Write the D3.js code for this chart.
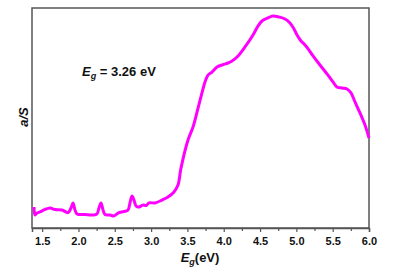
<!DOCTYPE html>
<html>
<head>
<meta charset="utf-8">
<script src="https://cdn.jsdelivr.net/npm/d3@7"></script>
<style>
  body { margin: 0; background: #fff; }
  text { font-family: "Liberation Sans", Arial, sans-serif; font-weight: bold; fill: #111; }
</style>
</head>
<body>
<svg width="394" height="275"></svg>
<script>
// photon energy (eV) and a/S (arbitrary units)
var energy = [1.388, 1.401, 1.429, 1.47, 1.525, 1.608, 1.677, 1.773, 1.856, 1.897, 1.925, 1.952, 1.98,
  2.09, 2.2, 2.255, 2.282, 2.31, 2.338, 2.365, 2.434, 2.489, 2.544, 2.627, 2.682, 2.709, 2.737,
  2.764, 2.792, 2.833, 2.888, 2.93, 2.971, 3.053, 3.15, 3.232, 3.315, 3.37, 3.41, 3.508, 3.577,
  3.646, 3.70, 3.742, 3.783, 3.838, 3.907, 3.976, 4.059, 4.114, 4.183, 4.293, 4.403, 4.472,
  4.527, 4.609, 4.678, 4.761, 4.843, 4.912, 4.967, 5.009, 5.064, 5.119, 5.174, 5.229, 5.325,
  5.435, 5.504, 5.559, 5.628, 5.697, 5.752, 5.807, 5.876, 5.945, 6.0];
var absorb = [9.5, 5.9, 6.8, 7.3, 8.2, 9.1, 8.4, 8.2, 7.0, 9.1, 11.4, 8.2, 6.4,
  6.1, 5.9, 6.4, 9.1, 11.4, 8.2, 6.1, 5.9, 5.5, 6.8, 7.5, 8.2, 11.4, 14.5,
  12.7, 10, 9.5, 10.5, 10.2, 11.4, 11.4, 12.7, 14.1, 16.4, 19.5, 27, 40, 45.9,
  54.5, 61.4, 66.4, 69.5, 70.9, 73.2, 74.1, 75, 75.9, 77.7, 82.3, 87.7, 91.8,
  94.1, 95.5, 96.4, 95.9, 95, 93.2, 90.5, 87.7, 85, 83.2, 80.9, 78.2, 74.1,
  69.5, 66.4, 64.1, 63.6, 63.2, 61.4, 57.3, 52.3, 46.8, 40.9];
var xTicks = [1.5, 2.0, 2.5, 3.0, 3.5, 4.0, 4.5, 5.0, 5.5, 6.0];
var xMinor = [1.75, 2.25, 2.75, 3.25, 3.75, 4.25, 4.75, 5.25, 5.75];

var svg = d3.select("svg");
var mLeft = 32, mRight = 369, mTop = 8, mBottom = 228;

var xScale = d3.scaleLinear().domain([1.36, 6.0]).range([mLeft, mRight]);
var yScale = d3.scaleLinear().domain([0, 100]).range([mBottom, mTop]);

var pts = energy.map(function(e, i) { return [e, absorb[i]]; });

// frame
svg.append("rect")
  .attr("x", mLeft).attr("y", mTop)
  .attr("width", mRight - mLeft).attr("height", mBottom - mTop)
  .attr("fill", "none").attr("stroke", "#555").attr("stroke-width", 1.5);

// curve
var line = d3.line()
  .x(function(d) { return xScale(d[0]); })
  .y(function(d) { return yScale(d[1]); })
  .curve(d3.curveCatmullRom);

svg.append("path")
  .datum(pts)
  .attr("d", line)
  .attr("fill", "none")
  .attr("stroke", "#ff00ff")
  .attr("stroke-width", 3)
  .attr("stroke-linejoin", "round");

// x axis
var xAxis = svg.append("g")
  .attr("transform", "translate(0," + mBottom + ")")
  .call(d3.axisBottom(xScale).tickValues(xTicks).tickFormat(d3.format(".1f")).tickSize(4).tickPadding(5));
xAxis.select(".domain").attr("stroke", "#555").attr("stroke-width", 1.5);
xAxis.selectAll(".tick line").attr("stroke", "#555").attr("stroke-width", 1.2);
xAxis.selectAll("text").style("font-size", "11px").attr("fill", "#111");

var minor = svg.append("g")
  .attr("transform", "translate(0," + mBottom + ")")
  .call(d3.axisBottom(xScale).tickValues(xMinor).tickFormat("").tickSize(3));
minor.select(".domain").remove();
minor.selectAll(".tick line").attr("stroke", "#555").attr("stroke-width", 1.2);

// labels
var xl = svg.append("text")
  .attr("x", 200).attr("y", 262)
  .attr("text-anchor", "middle")
  .style("font-size", "13px");
xl.append("tspan").style("font-style", "italic").text("E");
xl.append("tspan").style("font-style", "italic").style("font-size", "9px").attr("dy", 3).text("g");
xl.append("tspan").attr("dy", -3).text("(eV)");

svg.append("text")
  .attr("transform", "translate(28,117) rotate(-90)")
  .attr("text-anchor", "middle")
  .style("font-size", "13px")
  .style("font-style", "italic")
  .text("a/S");

var eg = svg.append("text")
  .attr("x", 82).attr("y", 76)
  .style("font-size", "13px");
eg.append("tspan").style("font-style", "italic").text("E");
eg.append("tspan").style("font-style", "italic").style("font-size", "9px").attr("dy", 3).text("g");
eg.append("tspan").attr("dy", -3).text(" = 3.26 eV");
</script>
</body>
</html>
